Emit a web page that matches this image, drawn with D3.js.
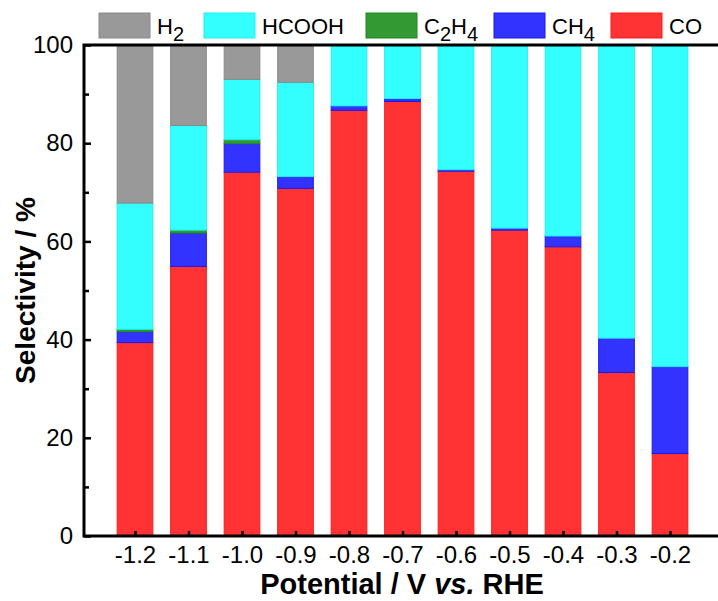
<!DOCTYPE html>
<html>
<head>
<meta charset="utf-8">
<script src="https://cdn.jsdelivr.net/npm/d3@7"></script>
<style>
  html, body { margin: 0; padding: 0; background: #fff; }
  svg { display: block; font-family: "Liberation Sans", Arial, sans-serif; }
</style>
</head>
<body>
<svg id="chart" width="718" height="601"></svg>
<script>
// Product selectivity (%) at each applied potential (V vs. RHE)
const potentials = [-1.2, -1.1, -1.0, -0.9, -0.8, -0.7, -0.6, -0.5, -0.4, -0.3, -0.2];
const co    = [39.4, 54.9, 74.1, 70.8, 86.7, 88.5, 74.3, 62.3, 58.9, 33.3, 16.8];
const ch4   = [2.2, 6.8, 5.8, 2.4, 0.9, 0.6, 0.3, 0.4, 2.2, 7.0, 17.7];
const c2h4  = [0.5, 0.6, 0.8, 0, 0, 0, 0, 0, 0, 0, 0];
const hcooh = [25.7, 21.3, 12.3, 19.2, 12.4, 10.9, 25.4, 37.3, 38.9, 59.7, 65.5];
const h2    = [32.2, 16.4, 7.0, 7.6, 0, 0, 0, 0, 0, 0, 0];

const yTicks = [0, 20, 40, 60, 80, 100];
const yMinorTicks = [10, 30, 50, 70, 90];
const xTickLabels = ["-1.2", "-1.1", "-1.0", "-0.9", "-0.8", "-0.7", "-0.6", "-0.5", "-0.4", "-0.3", "-0.2"];

// stacking order, bottom to top
const series = [
  { key: "CO",    values: co,    fill: "#ff3333", stroke: "#ff1a1a" },
  { key: "CH4",   values: ch4,   fill: "#3333ff", stroke: "#1a1aee" },
  { key: "C2H4",  values: c2h4,  fill: "#339933", stroke: "#1f8a1f" },
  { key: "HCOOH", values: hcooh, fill: "#33ffff", stroke: "#22eeee" },
  { key: "H2",    values: h2,    fill: "#999999", stroke: "#8a8a8a" }
];
// legend order, left to right
const legendOrder = ["H2", "HCOOH", "C2H4", "CH4", "CO"];
const legendX = [99, 204, 366, 494, 611];

const rows = potentials.map((p, i) => {
  const r = { p };
  series.forEach(s => { r[s.key] = s.values[i]; });
  return r;
});

const svg = d3.select("#chart");
const plot = { left: 84, right: 718, top: 45, bottom: 536 };

const x = d3.scaleLinear().domain([-1.2, -0.2]).range([135, 670]);
const y = d3.scaleLinear().domain([0, 100]).range([plot.bottom, plot.top]);
const barW = x(-1.2 + 0.0667) - x(-1.2);

const stack = d3.stack().keys(series.map(s => s.key));
const stacked = stack(rows);

svg.append("g").selectAll("g")
  .data(stacked)
  .join("g")
  .attr("fill", d => series.find(s => s.key === d.key).fill)
  .attr("stroke", d => series.find(s => s.key === d.key).stroke)
  .attr("stroke-width", 1)
  .selectAll("rect")
  .data(d => d.filter(v => v[1] - v[0] > 0))
  .join("rect")
  .attr("x", d => x(d.data.p) - barW / 2)
  .attr("width", barW)
  .attr("y", d => y(d[1]))
  .attr("height", d => y(d[0]) - y(d[1]));

// y axis: inward ticks
const yAxis = svg.append("g").attr("transform", `translate(${plot.left},0)`);
yAxis.call(d3.axisLeft(y).tickValues(yTicks).tickSize(-7).tickPadding(11).tickFormat(d3.format("d")));
yAxis.append("g").call(d3.axisLeft(y).tickValues(yMinorTicks).tickSize(-5).tickFormat(""));
yAxis.selectAll(".domain").remove();
yAxis.selectAll("line").attr("stroke", "#000").attr("stroke-width", 2.5);
yAxis.selectAll("text").attr("font-size", 24).attr("fill", "#000")
  .attr("font-family", "'Liberation Sans', Arial, sans-serif");

// x axis: inward ticks
const xAxis = svg.append("g").attr("transform", `translate(0,${plot.bottom})`);
xAxis.call(d3.axisBottom(x).tickValues(potentials).tickSize(-5).tickPadding(10)
  .tickFormat((d, i) => xTickLabels[i]));
xAxis.selectAll(".domain").remove();
xAxis.selectAll("line").attr("stroke", "#000").attr("stroke-width", 2.5);
xAxis.selectAll("text").attr("font-size", 24).attr("fill", "#000")
  .attr("font-family", "'Liberation Sans', Arial, sans-serif");

// frame lines: top, left, bottom
const frame = svg.append("g").attr("stroke", "#000").attr("stroke-width", 3).attr("fill", "none");
frame.append("path").attr("d", `M${plot.right},${plot.top}H${plot.left}V${plot.bottom}H${plot.right}`)
  .attr("stroke-linecap", "square");

// axis titles
svg.append("text")
  .attr("x", 402).attr("y", 594)
  .attr("text-anchor", "middle")
  .attr("font-size", 29).attr("font-weight", "bold")
  .call(t => {
    t.append("tspan").text("Potential / V ");
    t.append("tspan").attr("font-style", "italic").text("vs.");
    t.append("tspan").text(" RHE");
  });

svg.append("text")
  .attr("transform", `translate(35,${(plot.top + plot.bottom) / 2}) rotate(-90)`)
  .attr("text-anchor", "middle")
  .attr("font-size", 28).attr("font-weight", "bold")
  .text("Selectivity / %");

// legend (chemical formulas with subscript digits)
const labelParts = {
  H2: [["H", false], ["2", true]],
  HCOOH: [["HCOOH", false]],
  C2H4: [["C", false], ["2", true], ["H", false], ["4", true]],
  CH4: [["CH", false], ["4", true]],
  CO: [["CO", false]]
};
const legend = svg.append("g");
legendOrder.forEach((key, i) => {
  const s = series.find(d => d.key === key);
  const g = legend.append("g").attr("transform", `translate(${legendX[i]},13)`);
  g.append("rect").attr("width", 51).attr("height", 25)
    .attr("fill", s.fill).attr("stroke", s.stroke).attr("stroke-width", 1);
  const t = g.append("text").attr("x", 58).attr("y", 21).attr("font-size", 22).attr("fill", "#000");
  let lowered = false;
  labelParts[key].forEach(([str, sub]) => {
    const ts = t.append("tspan").text(str);
    if (sub) { ts.attr("dy", 7).attr("font-size", 20); lowered = true; }
    else if (lowered) { ts.attr("dy", -7); lowered = false; }
  });
});
</script>
</body>
</html>
